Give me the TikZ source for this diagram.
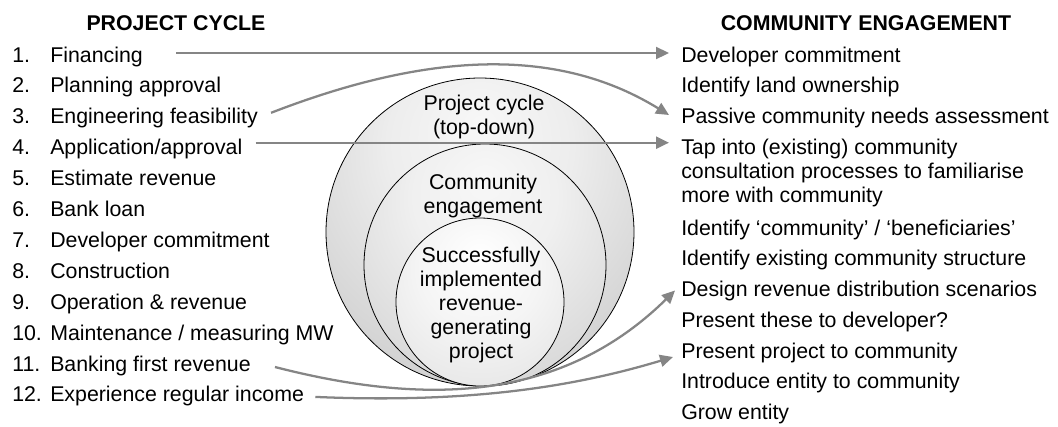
\documentclass[tikz,border=0pt]{standalone}
\usepackage{fontspec}
\setmainfont{Liberation Sans}
\usetikzlibrary{arrows.meta,calc}
\definecolor{arrowgray}{HTML}{858585}
\definecolor{gA0}{gray}{0.97}
\definecolor{gA1}{gray}{0.93}
\definecolor{gA2}{gray}{0.76}
\definecolor{gA3}{gray}{0.52}
\definecolor{gB1}{gray}{0.94}
\definecolor{gB2}{gray}{0.80}
\definecolor{gB3}{gray}{0.60}
\definecolor{gC1}{gray}{0.96}
\definecolor{gC2}{gray}{0.87}
\definecolor{gC3}{gray}{0.70}
\pgfdeclareradialshading{shadeA}{\pgfpoint{0bp}{18bp}}{color(0bp)=(gA0); color(15bp)=(gA1); color(45bp)=(gA2); color(70bp)=(gA3)}
\pgfdeclareradialshading{shadeB}{\pgfpoint{0bp}{18bp}}{color(0bp)=(gA0); color(15bp)=(gB1); color(45bp)=(gB2); color(70bp)=(gB3)}
\pgfdeclareradialshading{shadeC}{\pgfpoint{0bp}{14bp}}{color(0bp)=(white); color(18bp)=(gC1); color(45bp)=(gC2); color(66bp)=(gC3)}
\tikzset{
  txt/.style={inner sep=0pt, anchor=base west},
  head/.style={inner sep=0pt, anchor=base, font=\fontsize{16pt}{18pt}\selectfont\bfseries},
  ctext/.style={inner sep=0pt, anchor=base},
  ring/.style={circle, draw=black, line width=0.6pt, inner sep=0pt},
  conn/.style={draw=arrowgray, line width=1.7pt, -{Triangle[length=9.75pt, width=9pt]}},
}
\newcommand{\itm}[2]{\makebox[28.5pt][l]{#1}#2}
\begin{document}
\begin{tikzpicture}[x=0.75pt, y=-0.75pt, font=\fontsize{16pt}{18pt}\selectfont]
\useasboundingbox (0,0) rectangle (1058,426);

% circles
\node (outer) [ring, shading=shadeA, minimum size=231pt] at (480,232) {};
\node (middle) [ring, shading=shadeB, minimum size=181.5pt] at (485,265) {};
\node (inner) [ring, shading=shadeC, minimum size=126pt] at (480,302) {};

\node (tOuter) [ctext] at (484,110) {\begin{tabular}[t]{@{}c@{}}Project cycle\\(top-down)\end{tabular}};
\node (tMiddle) [ctext] at (483,189) {\begin{tabular}[t]{@{}c@{}}Community\\engagement\end{tabular}};
\node (tInner) [ctext] at (481,262) {\begin{tabular}[t]{@{}c@{}}Successfully\\implemented\\revenue-\\generating\\project\end{tabular}};

% headers
\node (hL) [head] at (176,30) {PROJECT CYCLE};
\node (hR) [head] at (866,30) {COMMUNITY ENGAGEMENT};

% left list
\node (l1) [txt] at (12,62) {\itm{1.}{Financing}};
\node (l2) [txt] at (12,92.9) {\itm{2.}{Planning approval}};
\node (l3) [txt] at (12,123.8) {\itm{3.}{Engineering feasibility}};
\node (l4) [txt] at (12,154.7) {\itm{4.}{Application/approval}};
\node (l5) [txt] at (12,185.6) {\itm{5.}{Estimate revenue}};
\node (l6) [txt] at (12,216.5) {\itm{6.}{Bank loan}};
\node (l7) [txt] at (12,247.4) {\itm{7.}{Developer commitment}};
\node (l8) [txt] at (12,278.3) {\itm{8.}{Construction}};
\node (l9) [txt] at (12,309.2) {\itm{9.}{Operation \& revenue}};
\node (l10) [txt] at (12,340.1) {\itm{10.}{Maintenance / measuring MW}};
\node (l11) [txt] at (12,371) {\itm{11.}{Banking first revenue}};
\node (l12) [txt] at (12,401.9) {\itm{12.}{Experience regular income}};

% right list
\node (r1) [txt] at (681,62) {Developer commitment};
\node (r2) [txt] at (681,92.5) {Identify land ownership};
\node (r3) [txt] at (681,123) {Passive community needs assessment};
\node (r4) [txt] at (681,154.7) {\begin{tabular}[t]{@{}l@{}}Tap into (existing) community\\consultation processes to familiarise\\more with community\end{tabular}};
\node (r5) [txt] at (681,235) {Identify ‘community’ / ‘beneficiaries’};
\node (r6) [txt] at (681,265.5) {Identify existing community structure};
\node (r7) [txt] at (681,296.5) {Design revenue distribution scenarios};
\node (r8) [txt] at (681,327.5) {Present these to developer?};
\node (r9) [txt] at (681,358) {Present project to community};
\node (r10) [txt] at (681,388.5) {Introduce entity to community};
\node (r11) [txt] at (681,419) {Grow entity};

% connectors
\draw[conn] ($(l1.base east)+(33,-9)$) -- ($(r1.base west)+(-12,-9)$);
\draw[conn] ($(l3.base east)+(13,-11)$) .. controls +(165,-64) and +(-107,-66) .. ($(r3.base west)+(-12,-8)$);
\draw[conn] ($(l4.base east)+(13,-12)$) -- ($(r4.base west)+(-12,-12)$);
\draw[conn] ($(l11.base east)+(24,-4)$) .. controls +(148,38) and +(-115,113) .. ($(r7.base west)+(-6,-6)$);
\draw[conn] ($(l12.base east)+(11,-5)$) .. controls +(160,7) and +(-93,28) .. ($(r9.base west)+(-8,-1)$);
\end{tikzpicture}
\end{document}
